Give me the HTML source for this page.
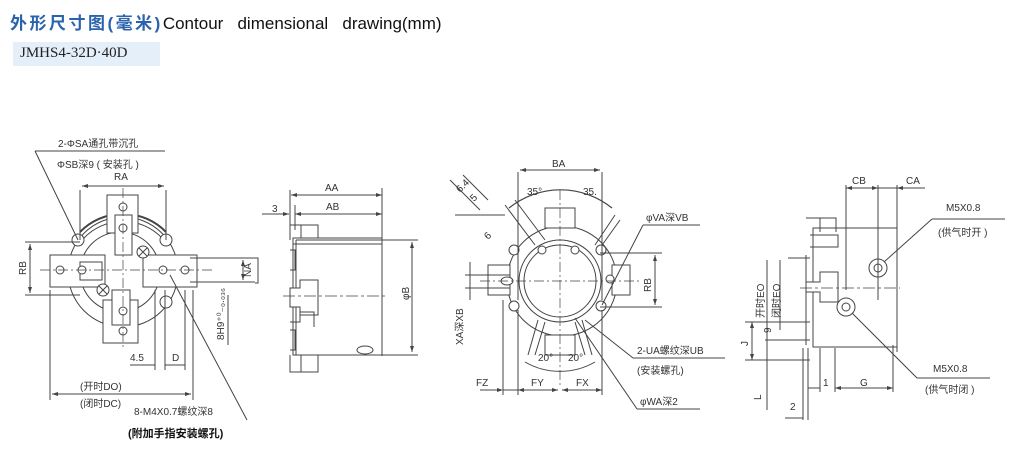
<!DOCTYPE html>
<html><head><meta charset="utf-8"><style>
body{margin:0;width:1024px;height:462px;background:#fff;overflow:hidden;position:relative;font-family:"Liberation Sans","Noto Sans CJK SC",sans-serif}
.t{position:absolute;left:10px;top:9px;font-size:17px;white-space:nowrap;color:#111}
.t b{color:#2a63ad;font-weight:bold;letter-spacing:2.5px}
.box{position:absolute;left:13px;top:42px;width:147px;height:24px;background:#e4effa}
.box span{position:absolute;left:7px;top:3px;font-family:"Liberation Serif",serif;font-size:15px;color:#222}
svg{position:absolute;left:0;top:0}
svg text{font-family:"Liberation Sans","Noto Sans CJK SC",sans-serif;fill:#333;font-size:10px}
</style></head><body>
<div class="t"><b>外形尺寸图(毫米)</b>Contour&nbsp;&nbsp; dimensional&nbsp;&nbsp; drawing(mm)</div>
<div class="box"><span>JMHS4-32D·40D</span></div>
<svg width="1024" height="462" viewBox="0 0 1024 462" fill="none" stroke="#444" stroke-width="1">
<!-- Drawing 1 -->
<g>
<circle cx="123" cy="272" r="55"/>
<circle cx="120" cy="272" r="40"/>
<path d="M80 232 A60 60 0 0 1 166 232" stroke-width="2"/>
<path d="M84 238 A54 54 0 0 1 162 238"/>
<rect x="107" y="195" width="31" height="38" fill="#fff"/>
<rect x="115" y="215" width="17" height="40" fill="#fff"/>
<rect x="103" y="300" width="35" height="43" fill="#fff"/>
<rect x="112" y="290" width="18" height="35" fill="#fff"/>
<rect x="50" y="255" width="55" height="32" fill="#fff"/>
<rect x="143" y="255" width="54" height="32" fill="#fff"/>
<rect x="80" y="262" width="22" height="18" fill="#fff"/>
<g fill="#fff">
<circle cx="78" cy="240" r="6"/><circle cx="166" cy="240" r="6"/><circle cx="166" cy="302" r="6"/>
<circle cx="123" cy="207" r="4"/><circle cx="123" cy="228" r="4"/><circle cx="123" cy="311" r="4"/><circle cx="123" cy="331" r="4"/>
<circle cx="60" cy="270" r="4"/><circle cx="82" cy="270" r="4"/><circle cx="163" cy="270" r="4"/><circle cx="185" cy="270" r="4"/>
<circle cx="143" cy="252" r="6"/><circle cx="103" cy="290" r="6"/>
</g>
<path d="M139 248 l8 8 M147 248 l-8 8 M99 286 l8 8 M107 286 l-8 8"/>
<path d="M40 270 H215 M123 188 V350" stroke-dasharray="10 3 2 3" stroke-width=".7"/>
<path d="M35 151 H165"/><path d="M35 151 L78 240"/>
<path d="M170 275 L247 420"/>
<path d="M80 190 V240 M166 190 V240 M82 186 H164"/>
<path d="M25 242 H80 M25 295 H80 M30 244 V293"/>
<path d="M190 258 H255 M190 282 H255 M243 260 V280"/>
<path d="M50 290 V400 M193 290 V400 M52 394 H191"/>
<path d="M155 290 V370 M165 290 V370 M185 290 V370 M130 365 H155 M165 365 H185"/>
<path d="M228 295 V345"/>
<g fill="#444" stroke="none">
<path d="M82 186 l6 -2 v4z M164 186 l-6 -2 v4z M30 244 l-2 6 h4z M30 293 l-2 -6 h4z M52 394 l6 -2 v4z M191 394 l-6 -2 v4z M243 260 l-2 6 h4z M243 280 l-2 -6 h4z"/>
</g>
</g>
<g stroke="none">
<text x="58" y="147">2-ΦSA通孔带沉孔</text>
<text x="57" y="168">ΦSB深9 ( 安装孔 )</text>
<text x="114" y="180">RA</text>
<text transform="translate(26 275) rotate(-90)">RB</text>
<text transform="translate(251 277) rotate(-90)">NA</text>
<text transform="translate(224 340) rotate(-90)">8H9⁺⁰₋₀.₀₃₆</text>
<text x="130" y="361" font-size="9">4.5</text>
<text x="172" y="361" font-size="9">D</text>
<text x="80" y="390">(开时DO)</text>
<text x="80" y="407">(闭时DC)</text>
<text x="134" y="415">8-M4X0.7螺纹深8</text>
<text x="128" y="437" style="fill:#111;font-weight:bold;font-size:11px">(附加手指安装螺孔)</text>
</g>
<!-- Drawing 2 -->
<g>
<rect x="293" y="238" width="89" height="117" fill="#fff"/>
<path d="M382 188 V356 M290 190 V240 M295 205 V230"/>
<path d="M293 244 H382 M296 240 H385 M296 240 V355"/>
<path d="M290 225 h28 v13 M301 225 v13 M290 355 v17 h28 v-17 M301 355 v17"/>
<path d="M290 250 h5 v20 h-5 M290 330 h5 v20 h-5"/>
<path d="M290 288 h10 v-8 h18 v35 h-18 v-8 h-10 z" fill="#fff"/>
<path d="M290 322 h10 v-10 h14 v15"/>
<path d="M283 296 H386" stroke-dasharray="12 3 3 3" stroke-width=".7"/>
<ellipse cx="365" cy="350" rx="8" ry="4"/>
<path d="M291 195 H382 M295 214 H382 M262 214 H289 M382 240 H418 M382 355 H418 M412 242 V352 M255 258 H258 V283 H255"/>
<g fill="#444" stroke="none"><path d="M291 195 l6 -2 v4z M382 195 l-6 -2 v4z M295 214 l6 -2 v4z M382 214 l-6 -2 v4z M289 214 l-6 -2 v4z M412 242 l-2 6 h4z M412 352 l-2 -6 h4z"/></g>
</g>
<g stroke="none">
<text x="325" y="191">AA</text><text x="326" y="210">AB</text><text x="272" y="212">3</text>
<text transform="translate(409 300) rotate(-90)">φB</text>
</g>
<!-- Drawing 3 -->
<g>
<path d="M509 208 A82 82 0 0 1 612 208" stroke-width="1.2"/>
<circle cx="562" cy="281" r="55" fill="#fff"/>
<circle cx="560" cy="281" r="41"/>
<circle cx="560" cy="281" r="36"/>
<rect x="545" y="208" width="30" height="20" fill="#fff"/>
<rect x="545" y="335" width="30" height="20" fill="#fff"/>
<rect x="488" y="265" width="22" height="30" fill="#fff"/>
<rect x="612" y="265" width="18" height="30" fill="#fff"/>
<path d="M505 205 L535 245 M515 200 L545 240 M595 245 L615 215 M600 248 L620 220"/>
<path d="M538 320 L528 355 M545 322 L535 355 M575 322 L585 355 M582 320 L592 355"/>
<path d="M525 362 A70 70 0 0 0 595 362"/>
<g fill="#fff"><circle cx="514" cy="250" r="5"/><circle cx="601" cy="250" r="5"/><circle cx="514" cy="306" r="5"/><circle cx="601" cy="306" r="5"/>
<circle cx="542" cy="250" r="4"/><circle cx="575" cy="250" r="4"/><circle cx="610" cy="279" r="4"/><ellipse cx="507" cy="281" rx="6" ry="4"/></g>
<path d="M480 281 H640 M560 190 V385" stroke-dasharray="10 3 2 3" stroke-width=".7"/>
<path d="M518 172 V300 M602 172 V300 M520 170 H600"/>
<path d="M600 253 H662 M600 307 H662 M655 255 V305"/>
<path d="M465 275 H510 M465 288 H510 M470 262 V300"/>
<path d="M480 390 H500 M503 390 H518 M518 390 H558 M562 390 H602 M503 300 V395 M518 310 V395 M602 310 V395"/>
<path d="M450 180 L480 210 M463 175 L488 200 M455 215 L505 215"/>
<path d="M643 225 H700 M643 225 L602 305"/>
<path d="M633 358 H725 M633 358 L585 320"/>
<path d="M637 409 H700 M637 409 L575 318"/>
<g fill="#444" stroke="none"><path d="M520 170 l6 -2 v4z M600 170 l-6 -2 v4z M655 255 l-2 6 h4z M655 305 l-2 -6 h4z M518 390 l6 -2 v4z M558 390 l-6 -2 v4z M562 390 l6 -2 v4z M602 390 l-6 -2 v4z M503 390 l-6 -2 v4z"/></g>
</g>
<g stroke="none">
<text x="552" y="167">BA</text>
<text x="527" y="195" font-size="9">35°</text><text x="583" y="195" font-size="9">35.</text>
<text transform="translate(460 193) rotate(-45)" font-size="9">6.4</text>
<text transform="translate(474 202) rotate(-45)" font-size="9">5</text>
<text transform="translate(488 240) rotate(-45)" font-size="9">6</text>
<text x="646" y="221">φVA深VB</text>
<text transform="translate(651 292) rotate(-90)">RB</text>
<text transform="translate(463 345) rotate(-90)">XA深XB</text>
<text x="538" y="361" font-size="9">20°</text><text x="568" y="361" font-size="9">20°</text>
<text x="637" y="354">2-UA螺纹深UB</text>
<text x="637" y="374">(安装螺孔)</text>
<text x="640" y="405">φWA深2</text>
<text x="476" y="386">FZ</text><text x="531" y="386">FY</text><text x="576" y="386">FX</text>
</g>
<!-- Drawing 4 -->
<g>
<rect x="813" y="228" width="84" height="119" fill="#fff"/>
<path d="M897 185 V352 M846 185 V290 M878 185 V300"/>
<path d="M806 218 h30 v14 M820 218 v14 M810 235 h28 v12 h-28 M806 255 V345 M788 258 H810"/>
<path d="M806 282 h14 v-10 h18 v30 h-18 v-10 h-14 z" fill="#fff"/>
<path d="M800 288 H900" stroke-dasharray="12 3 3 3" stroke-width=".7"/>
<circle cx="878" cy="268" r="9"/><circle cx="878" cy="268" r="4"/>
<circle cx="846" cy="307" r="9"/><circle cx="846" cy="307" r="4"/>
<path d="M846 188 H878 M878 188 H897 M897 188 H925"/>
<path d="M932 219 H1005 M932 219 L884 262"/>
<path d="M917 378 H990 M917 378 L852 313"/>
<path d="M767 260 V410 M780 260 V330 M745 322 H810 M745 360 H810 M752 322 V360 M765 340 H810"/>
<path d="M803 348 V420 M808 348 V420 M820 348 V392 M835 348 V392 M893 345 V392 M835 388 H893 M808 388 H820 M785 418 H803"/>
<g fill="#444" stroke="none"><path d="M846 188 l6 -2 v4z M878 188 l-6 -2 v4z M897 188 l6 -2 v4z M835 388 l6 -2 v4z M893 388 l-6 -2 v4z M752 322 l-2 6 h4z M752 360 l-2 -6 h4z"/></g>
</g>
<g stroke="none">
<text x="852" y="184">CB</text><text x="906" y="184">CA</text>
<text x="946" y="211">M5X0.8</text><text x="938" y="236">(供气时开 )</text>
<text x="933" y="372">M5X0.8</text><text x="925" y="393">(供气时闭 )</text>
<text transform="translate(764 318) rotate(-90)" font-size="9">开时EO</text>
<text transform="translate(780 318) rotate(-90)" font-size="9">闭时EO</text>
<text transform="translate(771 333) rotate(-90)" font-size="9">9</text>
<text transform="translate(748 346) rotate(-90)" font-size="9">J</text>
<text transform="translate(761 400) rotate(-90)" font-size="9">L</text>
<text x="823" y="386" font-size="9">1</text><text x="860" y="386" font-size="9">G</text><text x="790" y="410" font-size="9">2</text>
</g>
</svg>
</body></html>
